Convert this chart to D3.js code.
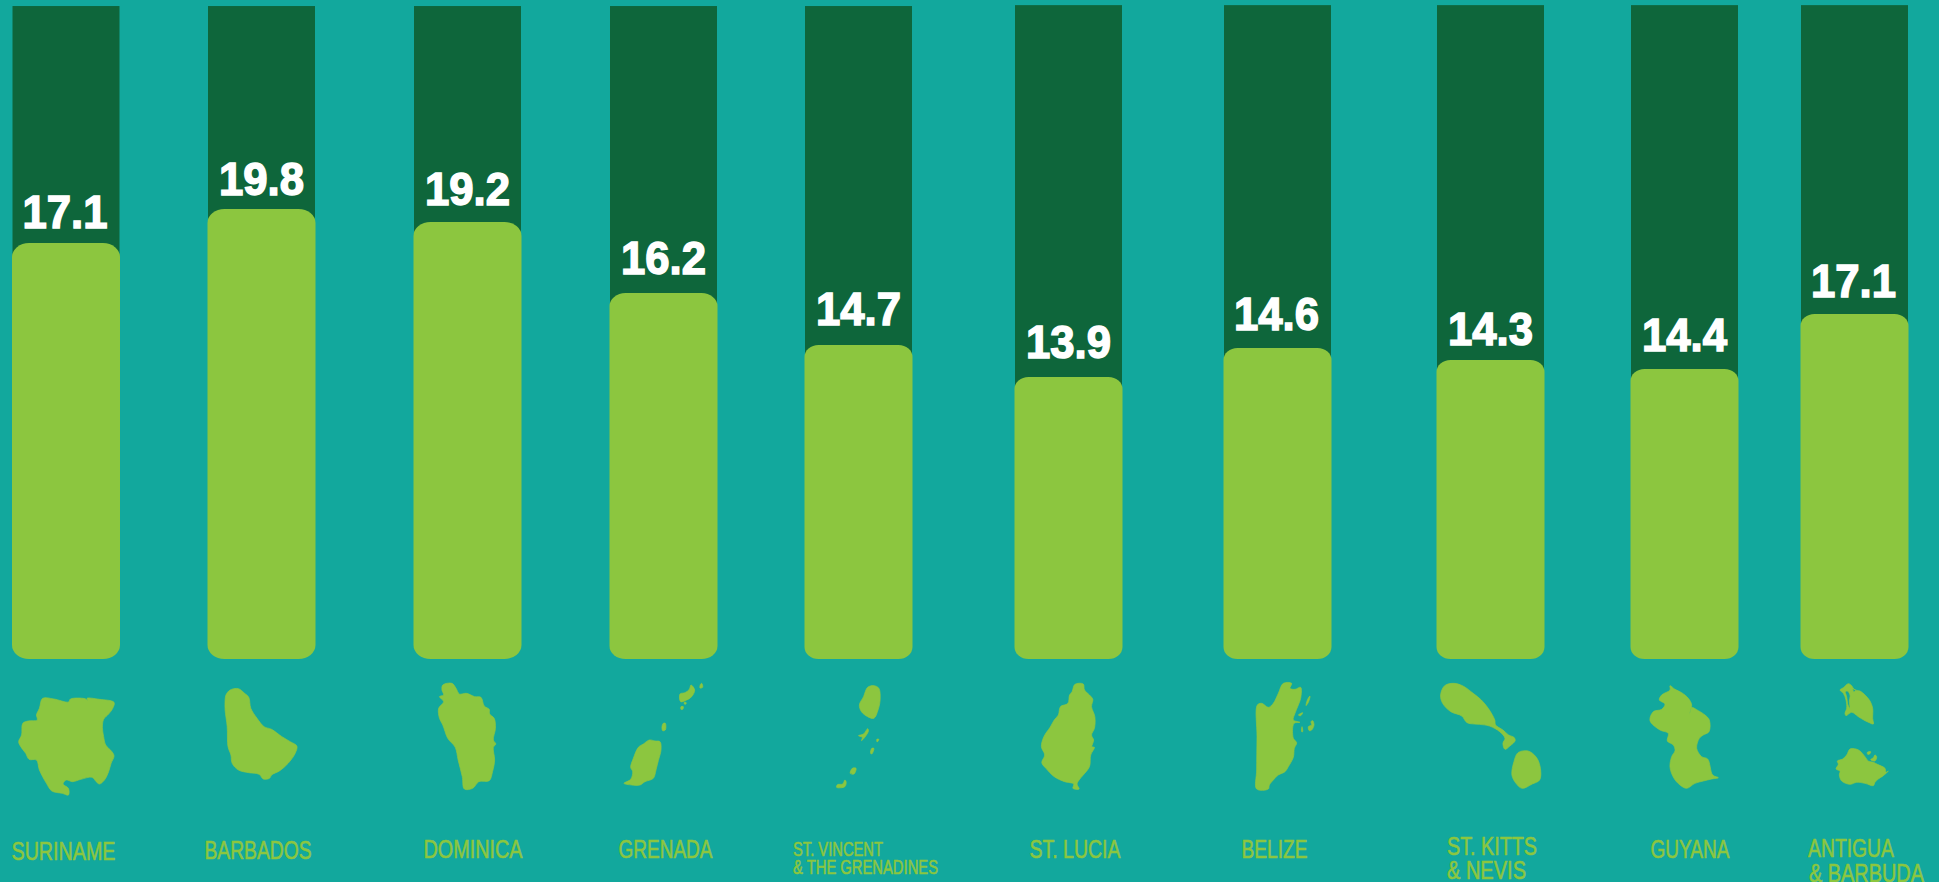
<!DOCTYPE html>
<html>
<head>
<meta charset="utf-8">
<script src="https://cdn.jsdelivr.net/npm/d3@7"></script>
<style>
	html, body { margin: 0; padding: 0; background: #12a89d; overflow: hidden; }
	svg { display: block; }
	text { font-family: "Liberation Sans", Arial, sans-serif; }
</style>
</head>
<body>
<svg id="chart" width="1939" height="882"></svg>
<script>
// values printed on the columns
var countries = ["SURINAME", "BARBADOS", "DOMINICA", "GRENADA", "ST. VINCENT & THE GRENADINES", "ST. LUCIA", "BELIZE", "ST. KITTS & NEVIS", "GUYANA", "ANTIGUA & BARBUDA"];
var values = [17.1, 19.8, 19.2, 16.2, 14.7, 13.9, 14.6, 14.3, 14.4, 17.1];
// the fill level as drawn, the poster does not draw it to the printed number
var fillLevels = [18.3, 19.8, 19.23, 16.1, 13.82, 12.41, 13.68, 13.16, 12.76, 15.18];
var trackLevels = [28.73, 28.73, 28.73, 28.73, 28.73, 28.77, 28.77, 28.77, 28.77, 28.77];
var labelLines = [["SURINAME"], ["BARBADOS"], ["DOMINICA"], ["GRENADA"], ["ST. VINCENT", "& THE GRENADINES"], ["ST. LUCIA"], ["BELIZE"], ["ST. KITTS", "& NEVIS"], ["GUYANA"], ["ANTIGUA", "& BARBUDA"]];

// layout read off the poster, the columns are not evenly spaced
var columnLeft = [12.5, 208, 414, 610, 805, 1015, 1224, 1437, 1631, 1801];
var columnWidth = 107;
var cornerX = [17, 17, 17, 16, 14, 14, 14, 14, 14, 14];
var cornerY = [14, 14, 14, 13, 12, 12, 12, 12, 12, 12];
var valueGap = [15, 14, 17, 19, 20, 19, 18, 15, 18, 17];
var valueShift = [-1, 0, 0, 0, 0, 0, -1, 0, 0, -1];
var labelX = [[11.5], [204.5], [423.5], [618.5], [793, 793], [1029.5], [1241.5], [1447, 1447], [1650.5], [1808, 1809]];
var labelY = [[860], [859], [858], [858], [856, 874], [858], [858], [855, 879], [858], [857, 881.5]];
var labelW = [[104], [107], [99], [94], [90, 145], [91], [66], [90, 79], [79], [86, 115]];
var labelSize = [25, 25, 25, 25, 20, 25, 25, 25, 25, 25];

// island outlines, in units of the crop each one was traced from
var outlines = {
	"SURINAME": [[[103,175],[130,177],[165,186],[170,177],[205,176],[212,181],[210,175],[240,178],[275,187],[272,205],[262,222],[250,238],[247,262],[250,290],[255,315],[270,335],[275,348],[268,370],[262,395],[252,420],[240,432],[232,425],[222,412],[195,418],[175,425],[160,420],[152,432],[165,445],[165,465],[150,460],[125,453],[112,430],[95,390],[88,360],[70,358],[62,340],[50,320],[45,305],[52,285],[55,250],[68,243],[90,240],[88,225],[95,205]]],
	"BARBADOS": [[[545,165],[555,150],[575,146],[590,160],[600,172],[605,205],[620,235],[637,260],[655,268],[680,290],[700,305],[716,318],[712,340],[695,370],[675,392],[655,405],[650,415],[635,417],[625,403],[600,398],[575,390],[560,370],[557,345],[550,320],[548,260],[543,210],[543,180]]],
	"DOMINICA": [[[1068,135],[1090,130],[1100,145],[1108,162],[1125,160],[1145,170],[1160,172],[1168,198],[1180,208],[1181,222],[1192,235],[1195,265],[1190,300],[1196,312],[1190,322],[1193,360],[1188,395],[1180,422],[1155,425],[1140,445],[1120,447],[1115,410],[1105,360],[1098,322],[1080,295],[1068,255],[1060,235],[1058,205],[1070,185],[1060,170],[1070,165],[1066,150]]],
	"GRENADA": [[[178,210],[195,213],[210,215],[213,240],[205,272],[198,300],[190,325],[165,335],[150,345],[125,345],[102,340],[122,328],[128,305],[122,292],[130,265],[145,232],[160,222]],
		[[303,45],[314,60],[305,80],[290,90],[272,95],[270,72],[285,68],[298,58]],
		[[335,40],[338,52],[330,54],[331,44]],
		[[220,160],[226,160],[226,180],[218,182],[216,170]],
		[[273,110],[280,110],[278,118],[273,118]],
		[[283,97],[288,97],[288,102],[283,102]]],
	"ST. VINCENT & THE GRENADINES": [[[525,142],[540,137],[552,145],[555,180],[550,210],[540,235],[525,230],[510,215],[505,195],[515,170]],
		[[525,266],[527,272],[518,292],[510,302],[512,292],[503,287],[515,282]],
		[[547,298],[552,298],[548,306]],
		[[535,325],[540,325],[535,342],[532,340]],
		[[488,385],[497,385],[492,402],[483,400]],
		[[465,432],[470,420],[473,425],[470,440],[450,442],[452,434]]],
	"ST. LUCIA": [[[1025,133],[1045,132],[1048,150],[1060,165],[1068,178],[1065,200],[1073,230],[1072,265],[1065,285],[1070,300],[1066,320],[1072,322],[1063,345],[1060,380],[1045,405],[1035,420],[1030,432],[1035,447],[1020,445],[1022,432],[1000,425],[975,410],[955,385],[945,368],[952,345],[944,320],[950,290],[965,262],[975,240],[985,225],[990,200],[1008,190],[1012,165],[1018,155]]],
	"BELIZE": [[[160,40],[185,40],[180,55],[195,58],[212,52],[212,85],[205,105],[195,130],[190,150],[210,157],[192,160],[190,205],[200,218],[193,235],[190,262],[175,290],[165,305],[145,315],[130,330],[118,345],[115,357],[80,357],[80,300],[81,200],[82,105],[95,100],[115,112],[130,100],[145,70]],
		[[240,78],[236,95],[228,107],[233,88]],
		[[218,128],[212,137],[205,135]],
		[[248,152],[252,165],[245,180],[238,182],[235,170],[245,165],[243,155]],
		[[216,170],[218,185],[215,185]]],
	"ST. KITTS & NEVIS": [[[355,137],[378,130],[400,138],[425,160],[445,180],[462,205],[478,240],[480,255],[498,270],[512,285],[525,292],[528,302],[515,318],[503,328],[498,310],[503,295],[490,275],[465,258],[440,253],[410,248],[397,228],[370,215],[350,190],[345,165]],
		[[535,338],[560,333],[580,352],[590,385],[588,420],[570,432],[545,445],[530,430],[520,405],[525,365]]],
	"GUYANA": [[[90,17],[105,28],[125,38],[145,55],[155,75],[148,105],[155,83],[175,92],[195,105],[208,120],[207,155],[190,165],[178,175],[170,205],[185,230],[203,237],[218,285],[235,293],[215,297],[190,303],[165,310],[140,325],[120,315],[102,295],[90,262],[95,230],[105,212],[100,195],[82,183],[85,160],[60,150],[30,122],[40,95],[65,88],[75,72],[58,60],[65,45],[90,30]]],
	"ANTIGUA & BARBUDA": [[[85,26],[95,32],[103,44],[120,48],[135,60],[150,78],[158,100],[158,130],[160,147],[148,143],[135,137],[115,125],[95,112],[78,122],[75,115],[80,100],[78,75],[70,55],[60,45],[70,38]],
		[[82,48],[90,60],[88,80],[90,100],[84,90],[80,65],[76,50]],
		[[98,42],[108,46],[102,50]],
		[[90,222],[108,222],[120,228],[135,245],[145,258],[160,262],[172,268],[195,280],[198,292],[205,288],[190,302],[175,312],[165,322],[160,332],[135,325],[110,322],[90,328],[65,318],[58,300],[60,288],[48,282],[55,268],[52,258],[68,252],[80,240]],
		[[142,232],[152,230],[150,236],[143,238]],
		[[165,240],[170,245],[165,258],[152,254],[160,248]]]
};
// crop each outline was traced from: left, top, horizontal zoom
var cropLeft = [0, 0, 0, 590, 650, 650, 1230, 1300, 1640, 1820];
var cropTop = [640, 640, 640, 670, 640, 640, 670, 640, 680, 675];
var cropZoom = [2.412, 2.412, 2.412, 3, 2.412, 2.412, 3, 2.454, 3, 3];

var BG = "#12a89d", DARK = "#0e663b", LIGHT = "#8cc63f";

var svg = d3.select("#chart");
svg.append("rect").attr("width", 1939).attr("height", 882).attr("fill", BG);

var yScale = d3.scaleLinear().domain([0, 19.8]).range([659, 209]);
var xScale = d3.scaleOrdinal().domain(countries).range(columnLeft);

var rows = countries.map(function(c, i) {
	return { name: c, i: i, value: values[i], fill: fillLevels[i], track: trackLevels[i] };
});

// dark track behind each column
svg.append("g").selectAll("rect")
	.data(rows)
	.enter().append("rect")
	.attr("x", function(d) { return xScale(d.name); })
	.attr("width", columnWidth)
	.attr("y", function(d) { return yScale(d.track); })
	.attr("height", function(d) { return yScale(d.fill) - yScale(d.track) + 20; })
	.attr("fill", DARK);

// light fill
svg.append("g").selectAll("rect")
	.data(rows)
	.enter().append("rect")
	.attr("x", function(d) { return xScale(d.name) - 0.5; })
	.attr("width", columnWidth + 1)
	.attr("y", function(d) { return yScale(d.fill); })
	.attr("height", function(d) { return yScale(0) - yScale(d.fill); })
	.attr("rx", function(d) { return cornerX[d.i]; })
	.attr("ry", function(d) { return cornerY[d.i]; })
	.attr("fill", LIGHT);

// printed numbers
svg.append("g").selectAll("text")
	.data(rows)
	.enter().append("text")
	.attr("transform", function(d) {
		var x = xScale(d.name) + columnWidth / 2 + valueShift[d.i];
		var y = yScale(d.fill) - valueGap[d.i];
		return "translate(" + x + "," + y + ") scale(0.95,1)";
	})
	.attr("text-anchor", "middle")
	.attr("font-size", 46)
	.attr("font-weight", "bold")
	.attr("fill", "#fff")
	.attr("stroke", "#fff")
	.attr("stroke-width", 1.5)
	.text(function(d) { return d.value.toFixed(1); });

// island silhouettes
var maps = svg.append("g").selectAll("path")
	.data(rows)
	.enter().append("path")
	.attr("fill", LIGHT)
	.attr("fill-rule", "evenodd")
	.attr("stroke", LIGHT)
	.attr("stroke-width", 0.7)
	.attr("d", function(d) {
		var line = d3.line()
			.x(function(p) { return cropLeft[d.i] + p[0] / cropZoom[d.i]; })
			.y(function(p) { return cropTop[d.i] + p[1] / 3; })
			.curve(d3.curveCatmullRomClosed.alpha(0.5));
		return outlines[d.name].map(function(o) { return line(o); }).join("");
	});

// country names
rows.forEach(function(d) {
	labelLines[d.i].forEach(function(s, j) {
		svg.append("text")
			.attr("x", labelX[d.i][j])
			.attr("y", labelY[d.i][j])
			.attr("font-size", labelSize[d.i])
			.attr("textLength", labelW[d.i][j])
			.attr("lengthAdjust", "spacingAndGlyphs")
			.attr("fill", LIGHT)
			.attr("stroke", LIGHT)
			.attr("stroke-width", 0.6)
			.text(s);
	});
});
</script>
</body>
</html>
